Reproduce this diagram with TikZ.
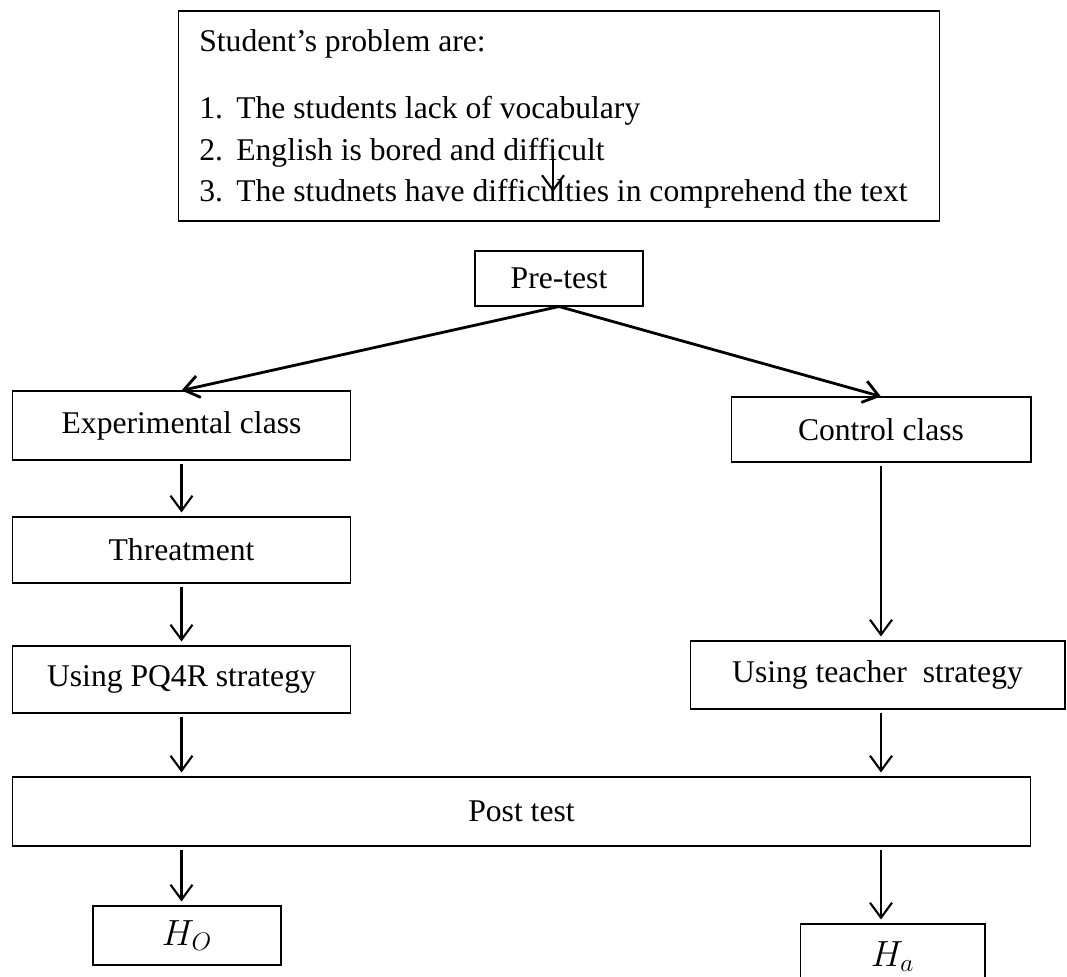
\documentclass[tikz,border=0pt]{standalone}
\usepackage{fontspec}
\setmainfont{Liberation Serif}
\usepackage{tikz}
\usetikzlibrary{arrows.meta,positioning,calc}

\begin{document}
\begin{tikzpicture}[x=0.02cm, y=-0.02cm,
    font=\fontsize{18}{22}\selectfont,
    box/.style={draw, line width=0.6pt, inner sep=0pt, align=center},
    line/.style={anchor=base west, inner sep=0pt},
    arr/.style={line width=1.2pt, -{Straight Barb[length=0.3cm, width=0.44cm]},
                shorten <=0.06cm, shorten >=0.08cm},
    slant/.style={line width=1.6pt, -{Straight Barb[length=0.3cm, width=0.44cm]}}]
  \fill[white] (0,0) rectangle (1067,976);
  \useasboundingbox (0,0) rectangle (1067,976);

  % Problem box
  \node[box, minimum width=15.24cm, minimum height=4.2cm] (problem) at (559,116) {};
  \node[line] (head) at (199,52) {Student's problem are:};
  \node[line] (pone) at (199,119) {\makebox[0.74cm][l]{1.}The students lack of vocabulary};
  \node[line] (ptwo) at (199,161) {\makebox[0.74cm][l]{2.}English is bored and difficult};
  \node[line] (pthree) at (199,202) {\makebox[0.74cm][l]{3.}The studnets have difficulties in comprehend the text};
  \coordinate (inA) at (553,150);
  \coordinate (inB) at (553,192);
  \draw[arr, shorten <=0pt, shorten >=0pt] (inA) -- (inB);

  % Pre-test and the two classes
  \node[box, minimum width=3.36cm, minimum height=1.1cm] (pretest) at (559,278.5) {Pre-test};
  \node[box, minimum width=6.78cm, minimum height=1.38cm] (exp) at (181.5,425.5) {Experimental class};
  \node[box, minimum width=6.0cm, minimum height=1.3cm] (ctrl) at (881,429.5) {Control class};
  \draw[slant] (pretest.south) -- (exp.north);
  \draw[slant] (pretest.south) -- (ctrl.north);

  % Experimental branch
  \node[box, minimum width=6.78cm, minimum height=1.32cm] (threat) at (181.5,550) {Threatment};
  \node[box, minimum width=6.78cm, minimum height=1.34cm] (pqr) at (181.5,679.5) {Using PQ4R strategy};
  \draw[arr] (exp) -- (threat);
  \draw[arr] (threat) -- (pqr);

  % Control branch
  \node[box, minimum width=7.5cm, minimum height=1.36cm] (teacher) at (877.5,675) {Using teacher\ \ strategy};
  \draw[arr] (ctrl.south) -- (ctrl.south |- teacher.north);

  % Post test
  \node[box, minimum width=20.38cm, minimum height=1.38cm] (post) at (521.5,811.5) {Post test};
  \draw[arr] (pqr.south) -- (pqr.south |- post.north);
  \draw[arr] (teacher.south -| ctrl.south) -- (post.north -| ctrl.south);

  % Hypotheses
  \node[box, minimum width=3.76cm, minimum height=1.18cm, font=\fontsize{22}{24}\selectfont] (hO) at (187,935.5) {$H_O$};
  \node[box, minimum width=3.7cm, minimum height=1.3cm, font=\fontsize{22}{24}\selectfont] (hA) at (892.5,956.5) {$H_a$};
  \draw[arr] (post.south -| pqr.south) -- (hO.north -| pqr.south);
  \draw[arr] (post.south -| ctrl.south) -- (hA.north -| ctrl.south);
\end{tikzpicture}
\end{document}
